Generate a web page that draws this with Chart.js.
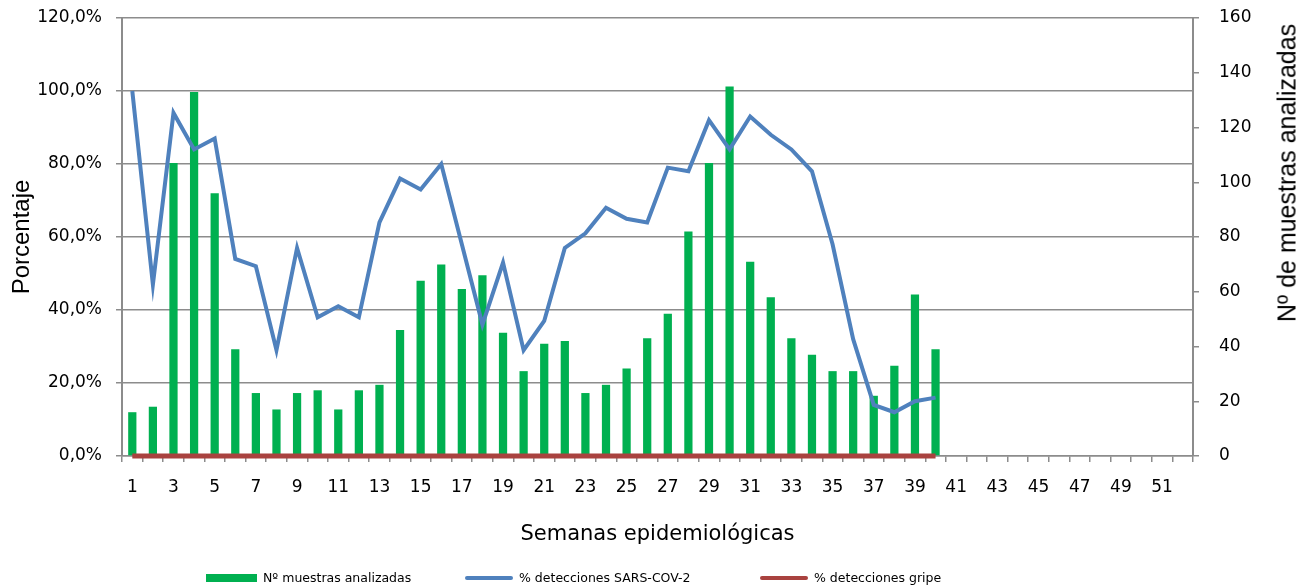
<!DOCTYPE html>
<html lang="es">
<head>
<meta charset="utf-8">
<title>Muestras analizadas y % detecciones</title>
<script src="https://cdn.jsdelivr.net/npm/chart.js@4.4.1/dist/chart.umd.min.js"></script>
<style>
  html, body { margin: 0; padding: 0; background: #fff; }
  #wrap { position: relative; width: 1299px; height: 588px; font-family: "DejaVu Sans", sans-serif; color: #000; }
  #box { position: absolute; left: 0; top: 0; width: 1299px; height: 588px; }
  .ytitle-r { position: absolute; left: 1287px; top: 173px; transform: translate(-50%, -50%) rotate(-90deg);
    font-family: "Liberation Sans", Arial, sans-serif; font-size: 25px; white-space: nowrap; }
  .leg { position: absolute; top: 570px; font-size: 12.5px; line-height: 16px; white-space: nowrap; }
  .leg i { display: inline-block; vertical-align: middle; margin-right: 6px; position: relative; top: -1px; }
</style>
</head>
<body>
<div id="wrap">
  <div id="box"><canvas id="chart"></canvas></div>
  <div class="ytitle-r">Nº de muestras analizadas</div>
  <div class="leg" style="left:206px"><i style="width:51px;height:8px;background:#00B050"></i>Nº muestras analizadas</div>
  <div class="leg" style="left:465px"><i style="width:48px;height:4px;background:#4F81BD;border-radius:2px"></i>% detecciones SARS-COV-2</div>
  <div class="leg" style="left:760px"><i style="width:48px;height:4px;background:#A9423F;border-radius:2px"></i>% detecciones gripe</div>
</div>
<script>
// semanas 1..52
const weeks = ['1','2','3','4','5','6','7','8','9','10','11','12','13','14','15','16','17','18','19','20',
  '21','22','23','24','25','26','27','28','29','30','31','32','33','34','35','36','37','38','39','40',
  '41','42','43','44','45','46','47','48','49','50','51','52'];

// Nº muestras analizadas (eje derecho)
const muestras = [16, 18, 107, 133, 96, 39, 23, 17, 23, 24,
  17, 24, 26, 46, 64, 70, 61, 66, 45, 31,
  41, 42, 23, 26, 32, 43, 52, 82, 107, 135,
  71, 58, 43, 37, 31, 31, 22, 33, 59, 39];

// % detecciones SARS-COV-2 (eje izquierdo)
const sars = [100, 47, 94, 84, 87, 54, 52, 29, 57, 38,
  41, 38, 64, 76, 73, 80, 58, 36, 53, 29,
  37, 57, 61, 68, 65, 64, 79, 78, 92, 84,
  93, 88, 84, 78, 58, 32, 14, 12, 15, 16];

// % detecciones gripe
const gripe = [0, 0, 0, 0, 0, 0, 0, 0, 0, 0,
  0, 0, 0, 0, 0, 0, 0, 0, 0, 0,
  0, 0, 0, 0, 0, 0, 0, 0, 0, 0,
  0, 0, 0, 0, 0, 0, 0, 0, 0, 0];

const GREEN = '#00B050', BLUE = '#4F81BD', RED = '#A9423F', GRID = '#8C8C8C';

Chart.defaults.font.family = '"DejaVu Sans", sans-serif';
Chart.defaults.color = '#000';

// fixed box sizes so the plot area matches the original
const fitY = (w) => (s) => { s.width = w; s.paddingTop = 0; s.paddingBottom = 0; };

new Chart(document.getElementById('chart'), {
  type: 'bar',
  data: {
    labels: weeks,
    datasets: [
      { type: 'line', label: '% detecciones gripe', data: gripe, yAxisID: 'y', clip: false,
        borderColor: RED, borderWidth: 5, pointRadius: 0, tension: 0, order: 1 },
      { type: 'line', label: '% detecciones SARS-COV-2', data: sars, yAxisID: 'y',
        borderColor: BLUE, borderWidth: 4, pointRadius: 0, tension: 0, order: 2 },
      { label: 'Nº muestras analizadas', data: muestras, yAxisID: 'y1',
        backgroundColor: GREEN, barPercentage: 0.4, categoryPercentage: 1, order: 3 },
    ],
  },
  options: {
    responsive: true, maintainAspectRatio: false, animation: false,
    layout: { padding: { top: 18, bottom: 28, left: 0, right: 0 } },
    plugins: { legend: { display: false }, tooltip: { enabled: false } },
    scales: {
      x: {
        grid: { display: true, drawOnChartArea: false, color: GRID, lineWidth: 1.5, tickLength: 6 },
        border: { color: GRID, width: 1.5 },
        ticks: { autoSkip: false, maxRotation: 0, padding: 15, font: { size: 17 },
          callback: (v, i) => (i % 2 === 0 ? weeks[i] : '') },
        title: { display: true, text: 'Semanas epidemiológicas', font: { size: 21 }, padding: { top: 0, bottom: 13 } },
        afterFit: (s) => { s.height = 104; s.paddingLeft = 0; s.paddingRight = 0; },
      },
      y: {
        position: 'left', min: 0, max: 120,
        grid: { color: GRID, lineWidth: 1.5, tickLength: 6 },
        border: { color: GRID, width: 2 },
        ticks: { stepSize: 20, padding: 14, font: { size: 17 },
          callback: (v) => v.toFixed(1).replace('.', ',') + '%' },
        title: { display: true, text: 'Porcentaje', padding: { top: 8, bottom: 0 },
          font: { family: '"Liberation Sans", Arial, sans-serif', size: 24 } },
        afterFit: fitY(122),
      },
      y1: {
        position: 'right', min: 0, max: 160,
        grid: { drawOnChartArea: false, color: GRID, lineWidth: 1.5, tickLength: 6 },
        border: { color: GRID, width: 2 },
        ticks: { stepSize: 20, padding: 20, font: { size: 17 } },
        afterFit: fitY(106),
      },
    },
  },
});
</script>
</body>
</html>
